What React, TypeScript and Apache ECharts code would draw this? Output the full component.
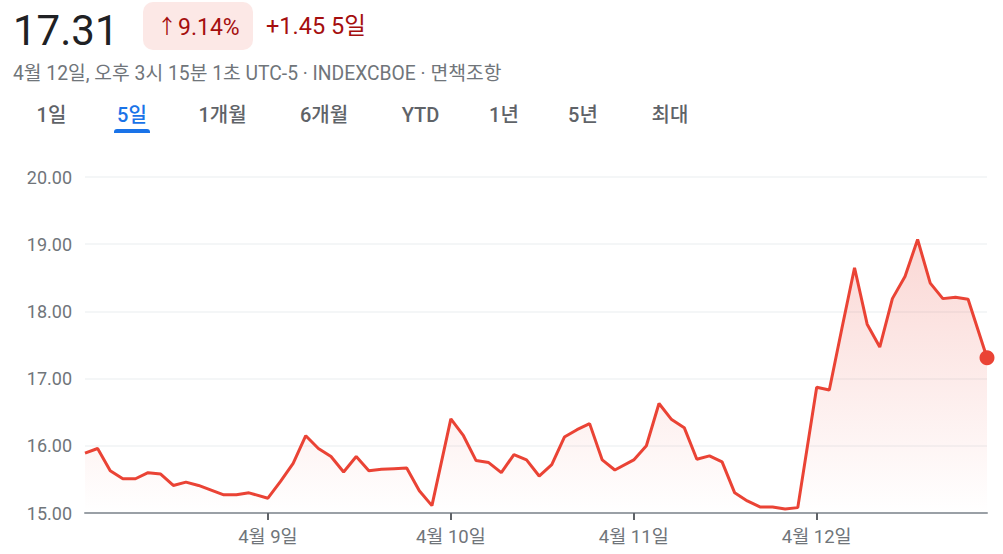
import React, { useEffect, useRef } from "react";
import * as echarts from "echarts";

// ---- data ----
const dayLabels = ["4월 8일", "4월 9일", "4월 10일", "4월 11일", "4월 12일"];
const day1 = [15.89, 15.96, 15.63, 15.51, 15.51, 15.60, 15.58, 15.41, 15.46, 15.41, 15.34, 15.27, 15.27, 15.30];
const day2 = [15.22, 15.47, 15.74, 16.15, 15.96, 15.84, 15.61, 15.84, 15.63, 15.65, 15.66, 15.67, 15.33, 15.11];
const day3 = [16.40, 16.15, 15.78, 15.75, 15.60, 15.87, 15.79, 15.55, 15.72, 16.13, 16.24, 16.33, 15.79, 15.64];
const day4 = [15.79, 16.00, 16.63, 16.39, 16.27, 15.80, 15.85, 15.76, 15.30, 15.18, 15.09, 15.09, 15.06, 15.08];
const day5 = [16.87, 16.83, 17.75, 18.65, 17.81, 17.47, 18.19, 18.52, 19.07, 18.42, 18.19, 18.21, 18.18];
const lastValue = 17.31; // 15:15 close slot on the last day
const yTicks = [15, 16, 17, 18, 19, 20];
const tabs = ["1일", "5일", "1개월", "6개월", "YTD", "1년", "5년", "최대"];
const activeTab = "5일";
const priceText = "17.31";
const changePct = "9.14%";
const changeAbs = "+1.45 5일";
const subtitle = "4월 12일, 오후 3시 15분 1초 UTC-5 · INDEXCBOE · 면책조항";

// half-hour slots per session, with an overnight gap
const SLOTS_PER_DAY = 14.5;
const CLOSE_SLOT = 13.5;

const days = [day1, day2, day3, day4, day5];

export default function App() {
  const ref = useRef<HTMLDivElement>(null);

  useEffect(() => {
    if (!ref.current) return;
    const chart = echarts.init(ref.current, undefined, { renderer: "svg" });

    const points: [number, number][] = [];
    days.forEach((vals, d) => {
      vals.forEach((v, k) => points.push([d * SLOTS_PER_DAY + k, v]));
    });
    const lastX = (days.length - 1) * SLOTS_PER_DAY + CLOSE_SLOT;
    points.push([lastX, lastValue]);

    const tickVals = dayLabels.slice(1).map((_, i) => (i + 1) * SLOTS_PER_DAY);

    const font = "Roboto, 'Noto Sans CJK KR', sans-serif";
    const red = "#ea4335";

    const tabCenters = [51.5, 132, 222.5, 324, 420.5, 504, 583, 670];

    const graphic: any[] = [
      {
        type: "text",
        x: 13,
        y: 30,
        style: {
          text: priceText,
          fontSize: 42,
          fontFamily: font,
          fill: "#202124",
          textVerticalAlign: "middle",
        },
      },
      {
        type: "rect",
        shape: { x: 143, y: 2, width: 110, height: 48, r: 10 },
        style: { fill: "#fce8e6" },
      },
      {
        type: "text",
        x: 157,
        y: 27,
        style: {
          text: "↑",
          fontSize: 20,
          fontFamily: font,
          fill: "#a50e0e",
          textVerticalAlign: "middle",
        },
      },
      {
        type: "text",
        x: 178,
        y: 27,
        style: {
          text: changePct,
          fontSize: 23,
          fontFamily: font,
          fill: "#a50e0e",
          textVerticalAlign: "middle",
        },
      },
      {
        type: "text",
        x: 266,
        y: 26,
        style: {
          text: changeAbs,
          fontSize: 23.5,
          fontFamily: font,
          fill: "#a50e0e",
          textVerticalAlign: "middle",
        },
      },
      {
        type: "text",
        x: 13,
        y: 73,
        style: {
          text: subtitle,
          fontSize: 19.3,
          fontFamily: font,
          fill: "#70757a",
          textVerticalAlign: "middle",
        },
      },
      {
        type: "rect",
        shape: { x: 114, y: 129, width: 36, height: 4, r: [3, 3, 0, 0] },
        style: { fill: "#1a73e8" },
      },
    ];
    tabs.forEach((t, i) => {
      graphic.push({
        type: "text",
        x: tabCenters[i],
        y: 115,
        style: {
          text: t,
          fontSize: 20,
          fontWeight: 500,
          fontFamily: font,
          fill: t === activeTab ? "#1a73e8" : "#5f6368",
          textAlign: "center",
          textVerticalAlign: "middle",
        },
      });
    });

    chart.setOption({
      animation: false,
      backgroundColor: "#ffffff",
      graphic,
      grid: { left: 85, right: 16, top: 177, bottom: 41 },
      xAxis: {
        type: "value",
        min: 0,
        max: lastX,
        splitLine: { show: false },
        axisLine: { show: true, lineStyle: { color: "#9aa0a6", width: 2 } },
        axisTick: {
          show: true,
          customValues: tickVals,
          length: 7,
          lineStyle: { color: "#5f6368", width: 2 },
        },
        axisLabel: {
          customValues: tickVals,
          formatter: (v: number) => dayLabels[Math.round(v / SLOTS_PER_DAY)],
          color: "#70757a",
          fontSize: 18.5,
          fontFamily: font,
          margin: 15,
        },
      },
      yAxis: {
        type: "value",
        min: yTicks[0],
        max: yTicks[yTicks.length - 1],
        interval: 1,
        axisLine: { show: false },
        axisTick: { show: false },
        splitLine: { lineStyle: { color: "#f1f3f4", width: 1.5 } },
        axisLabel: {
          formatter: (v: number) => v.toFixed(2),
          color: "#70757a",
          fontSize: 18,
          fontFamily: font,
          margin: 13,
        },
      },
      series: [
        {
          type: "line",
          data: points,
          symbol: "none",
          lineStyle: { color: red, width: 3 },
          areaStyle: {
            color: new echarts.graphic.LinearGradient(0, 0, 0, 1, [
              { offset: 0, color: "rgba(234,67,53,0.30)" },
              { offset: 1, color: "rgba(234,67,53,0.0)" },
            ]),
          },
          z: 2,
        },
        {
          type: "scatter",
          data: [points[points.length - 1]],
          symbol: "circle",
          symbolSize: 15,
          itemStyle: { color: red, opacity: 1 },
          z: 3,
        },
      ],
    });

    return () => chart.dispose();
  }, []);

  return (
    <div
      ref={ref}
      style={{ position: "fixed", left: 0, top: 0, width: 1003, height: 554 }}
    />
  );
}
